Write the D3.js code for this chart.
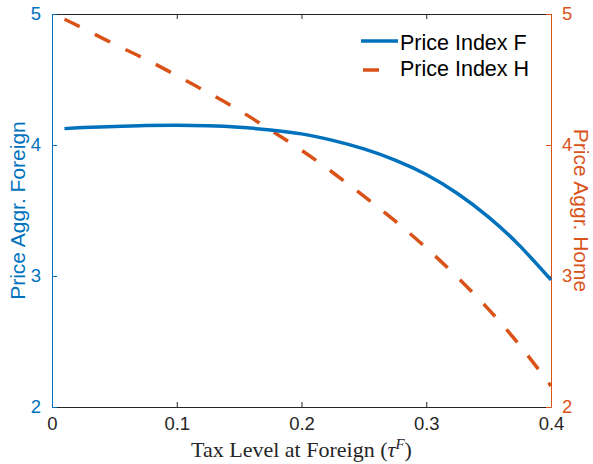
<!DOCTYPE html>
<html>
<head>
<meta charset="utf-8">
<script src="https://cdn.jsdelivr.net/npm/d3@7"></script>
<style>
  body { margin: 0; background: #fff; }
  svg { display: block; font-family: "Liberation Sans", Arial, sans-serif; }
</style>
</head>
<body>
<svg id="chart" width="593" height="464"></svg>
<script>
// tax level at foreign (x)
const taxLevels = [0.01, 0.025, 0.05, 0.075, 0.1, 0.125, 0.15, 0.175, 0.2, 0.225, 0.25, 0.275, 0.3, 0.325, 0.35, 0.375, 0.4];
// price aggregate foreign (left axis)
const priceF = [4.125, 4.133, 4.142, 4.148, 4.150, 4.146, 4.135, 4.115, 4.085, 4.035, 3.97, 3.885, 3.775, 3.63, 3.45, 3.23, 2.97];
// price aggregate home (right axis)
const priceH = [4.96, 4.89, 4.77, 4.655, 4.53, 4.40, 4.265, 4.115, 3.96, 3.79, 3.61, 3.42, 3.215, 2.99, 2.745, 2.47, 2.16];

const xTicks = [0, 0.1, 0.2, 0.3, 0.4];
const yTicks = [2, 3, 4, 5];
const seriesNames = ["Price Index F", "Price Index H"];

const blue = "#0072BD", orange = "#D95319", dark = "#262626";

const svg = d3.select("#chart");
const plotLeft = 52, plotRight = 551, plotTop = 14, plotBottom = 407;

const x = d3.scaleLinear().domain([0, 0.4]).range([plotLeft, plotRight]);
const yL = d3.scaleLinear().domain([2, 5]).range([plotBottom, plotTop]);
const yR = d3.scaleLinear().domain([2, 5]).range([plotBottom, plotTop]);

// bottom axis + top box line
const bottomAxis = svg.append("g")
    .attr("transform", "translate(0," + plotBottom + ")")
    .call(d3.axisBottom(x).tickValues(xTicks).tickSizeInner(-5).tickSizeOuter(0).tickPadding(12)
        .tickFormat(d => d === 0 ? "0" : d3.format(".1f")(d)));
bottomAxis.select(".domain").attr("stroke", dark);
bottomAxis.selectAll(".tick line").attr("stroke", dark);
bottomAxis.selectAll("text").attr("fill", dark).style("font-size", "18.5px").attr("dy", "0.6em");

const topAxis = svg.append("g")
    .attr("transform", "translate(0," + plotTop + ")")
    .call(d3.axisTop(x).tickValues(xTicks).tickSizeInner(-5).tickSizeOuter(0).tickFormat(""));
topAxis.select(".domain").attr("stroke", dark);
topAxis.selectAll(".tick line").attr("stroke", dark);

// left axis
const leftAxis = svg.append("g")
    .attr("transform", "translate(" + plotLeft + ",0)")
    .call(d3.axisLeft(yL).tickValues(yTicks).tickSizeInner(-5).tickSizeOuter(0).tickPadding(11)
        .tickFormat(d3.format("d")));
leftAxis.selectAll(".domain, .tick line").attr("stroke", blue);
leftAxis.selectAll("text").attr("fill", blue).style("font-size", "18.5px");

// right axis
const rightAxis = svg.append("g")
    .attr("transform", "translate(" + plotRight + ",0)")
    .call(d3.axisRight(yR).tickValues(yTicks).tickSizeInner(-5).tickSizeOuter(0).tickPadding(11)
        .tickFormat(d3.format("d")));
rightAxis.selectAll(".domain, .tick line").attr("stroke", orange);
rightAxis.selectAll("text").attr("fill", orange).style("font-size", "18.5px");

// axis titles
svg.append("text")
    .attr("transform", "translate(25," + (plotTop + plotBottom) / 2 + ") rotate(-90)")
    .attr("text-anchor", "middle")
    .attr("fill", blue)
    .style("font-size", "21px")
    .text("Price Aggr. Foreign");

svg.append("text")
    .attr("transform", "translate(574," + (plotTop + plotBottom) / 2 + ") rotate(90)")
    .attr("text-anchor", "middle")
    .attr("fill", orange)
    .style("font-size", "21px")
    .text("Price Aggr. Home");

const xLabel = svg.append("text")
    .attr("x", (plotLeft + plotRight) / 2)
    .attr("y", 457)
    .attr("text-anchor", "middle")
    .attr("fill", dark)
    .style("font-family", "'Liberation Serif', 'DejaVu Serif', serif")
    .style("font-size", "22px");
xLabel.append("tspan").text("Tax Level at Foreign (");
xLabel.append("tspan").style("font-style", "italic").text("τ");
xLabel.append("tspan").style("font-style", "italic").style("font-size", "15px").attr("dy", -8).text("F");
xLabel.append("tspan").attr("dy", 8).text(")");

// lines
const lineF = d3.line().x((d, i) => x(taxLevels[i])).y(d => yL(d)).curve(d3.curveNatural);
const lineH = d3.line().x((d, i) => x(taxLevels[i])).y(d => yR(d)).curve(d3.curveNatural);

svg.append("path")
    .datum(priceH)
    .attr("d", lineH)
    .attr("fill", "none")
    .attr("stroke", orange)
    .attr("stroke-width", 3.5)
    .attr("stroke-dasharray", "17,17");

svg.append("path")
    .datum(priceF)
    .attr("d", lineF)
    .attr("fill", "none")
    .attr("stroke", blue)
    .attr("stroke-width", 3.5);

// legend
const legend = svg.append("g");
legend.append("line")
    .attr("x1", 361).attr("x2", 398).attr("y1", 41).attr("y2", 41)
    .attr("stroke", blue).attr("stroke-width", 3.5);
legend.append("line")
    .attr("x1", 363).attr("x2", 379).attr("y1", 70).attr("y2", 70)
    .attr("stroke", orange).attr("stroke-width", 3.5);
legend.selectAll("text.leg")
    .data(seriesNames)
    .enter()
    .append("text")
    .attr("class", "leg")
    .attr("x", 400)
    .attr("y", (d, i) => 50 + i * 26)
    .attr("fill", "#000")
    .style("font-size", "21.5px")
    .text(d => d);
</script>
</body>
</html>
